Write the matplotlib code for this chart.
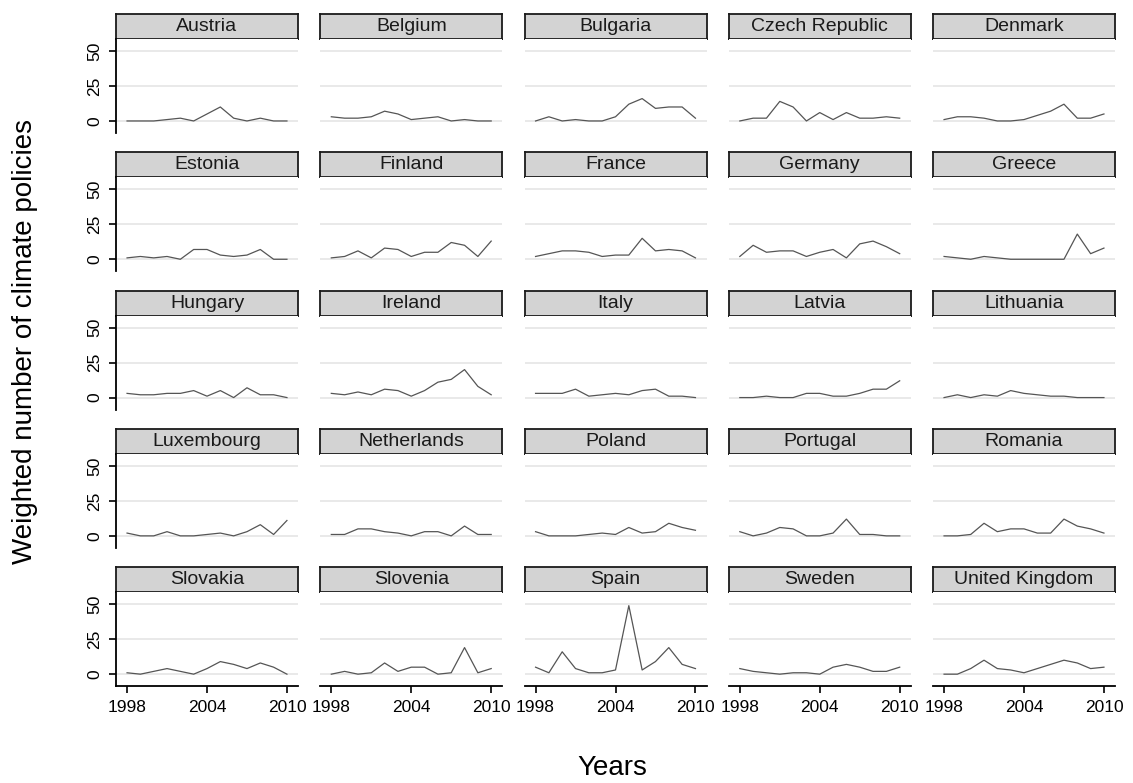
import matplotlib
matplotlib.use("Agg")
import matplotlib.pyplot as plt

plt.rcParams["font.family"] = ["Liberation Sans", "DejaVu Sans"]

# ── Data ─────────────────────────────────────────────────────────────────────
years = list(range(1998, 2011))

countries = [
    "Austria", "Belgium", "Bulgaria", "Czech Republic", "Denmark",
    "Estonia", "Finland", "France", "Germany", "Greece",
    "Hungary", "Ireland", "Italy", "Latvia", "Lithuania",
    "Luxembourg", "Netherlands", "Poland", "Portugal", "Romania",
    "Slovakia", "Slovenia", "Spain", "Sweden", "United Kingdom",
]

austria = [0, 0, 0, 1, 2, 0, 5, 10, 2, 0, 2, 0, 0]
belgium = [3, 2, 2, 3, 7, 5, 1, 2, 3, 0, 1, 0, 0]
bulgaria = [0, 3, 0, 1, 0, 0, 3, 12, 16, 9, 10, 10, 2]
czech = [0, 2, 2, 14, 10, 0, 6, 1, 6, 2, 2, 3, 2]
denmark = [1, 3, 3, 2, 0, 0, 1, 4, 7, 12, 2, 2, 5]
estonia = [1, 2, 1, 2, 0, 7, 7, 3, 2, 3, 7, 0, 0]
finland = [1, 2, 6, 1, 8, 7, 2, 5, 5, 12, 10, 2, 13]
france = [2, 4, 6, 6, 5, 2, 3, 3, 15, 6, 7, 6, 1]
germany = [2, 10, 5, 6, 6, 2, 5, 7, 1, 11, 13, 9, 4]
greece = [2, 1, 0, 2, 1, 0, 0, 0, 0, 0, 18, 4, 8]
hungary = [3, 2, 2, 3, 3, 5, 1, 5, 0, 7, 2, 2, 0]
ireland = [3, 2, 4, 2, 6, 5, 1, 5, 11, 13, 20, 8, 2]
italy = [3, 3, 3, 6, 1, 2, 3, 2, 5, 6, 1, 1, 0]
latvia = [0, 0, 1, 0, 0, 3, 3, 1, 1, 3, 6, 6, 12]
lithuania = [0, 2, 0, 2, 1, 5, 3, 2, 1, 1, 0, 0, 0]
luxembourg = [2, 0, 0, 3, 0, 0, 1, 2, 0, 3, 8, 1, 11]
netherlands = [1, 1, 5, 5, 3, 2, 0, 3, 3, 0, 7, 1, 1]
poland = [3, 0, 0, 0, 1, 2, 1, 6, 2, 3, 9, 6, 4]
portugal = [3, 0, 2, 6, 5, 0, 0, 2, 12, 1, 1, 0, 0]
romania = [0, 0, 1, 9, 3, 5, 5, 2, 2, 12, 7, 5, 2]
slovakia = [1, 0, 2, 4, 2, 0, 4, 9, 7, 4, 8, 5, 0]
slovenia = [0, 2, 0, 1, 8, 2, 5, 5, 0, 1, 19, 1, 4]
spain = [5, 1, 16, 4, 1, 1, 3, 49, 3, 9, 19, 7, 4]
sweden = [4, 2, 1, 0, 1, 1, 0, 5, 7, 5, 2, 2, 5]
united_kingdom = [0, 0, 4, 10, 4, 3, 1, 4, 7, 10, 8, 4, 5]

series = [
    austria, belgium, bulgaria, czech, denmark,
    estonia, finland, france, germany, greece,
    hungary, ireland, italy, latvia, lithuania,
    luxembourg, netherlands, poland, portugal, romania,
    slovakia, slovenia, spain, sweden, united_kingdom,
]

x_ticks = [1998, 2004, 2010]
y_ticks = [0, 25, 50]

# ── Layout (pixel units, top-left origin) ───────────────────────────────────
W, H = 1133, 783
NCOL, NROW = 5, 5
LEFT0, COL_PITCH, PANEL_W = 116, 204.25, 182
TOP0, ROW_PITCH = 14, 138.3
STRIP_H, PLOT_H = 25, 94


def fig_rect(x, y, w, h):
    return [x / W, 1 - (y + h) / H, w / W, h / H]


fig = plt.figure(figsize=(W / 100, H / 100), dpi=100)
fig.patch.set_facecolor("white")

for i, (name, vals) in enumerate(zip(countries, series)):
    r, c = divmod(i, NCOL)
    x0 = LEFT0 + c * COL_PITCH
    y0 = TOP0 + r * ROW_PITCH

    # strip
    sax = fig.add_axes(fig_rect(x0, y0, PANEL_W, STRIP_H))
    sax.set_facecolor("#d3d3d3")
    sax.set_xticks([])
    sax.set_yticks([])
    for sp in sax.spines.values():
        sp.set_linewidth(1.3)
        sp.set_color("#1a1a1a")
    sax.text(0.5, 0.5, name, ha="center", va="center",
             fontsize=14, color="#1a1a1a", transform=sax.transAxes)

    # plot
    ax = fig.add_axes(fig_rect(x0, y0 + STRIP_H, PANEL_W, PLOT_H))
    ax.set_xlim(1997.17, 2010.83)
    ax.set_ylim(-8.6, 58.6)
    for yv in y_ticks:
        ax.axhline(yv, color="#e3e3e3", lw=1.1, zorder=0)
    ax.plot(years, vals, color="#555555", lw=0.9, zorder=2)

    for sp in ax.spines.values():
        sp.set_visible(False)

    if c == 0:
        ax.spines["left"].set_visible(True)
        ax.spines["left"].set_linewidth(1.3)
        ax.set_yticks(y_ticks)
        ax.set_yticklabels([str(v) for v in y_ticks], rotation=90,
                           va="center", fontsize=12.5)
        ax.tick_params(axis="y", length=5, width=1.2, pad=5)
    else:
        ax.set_yticks([])

    if r == NROW - 1:
        ax.spines["bottom"].set_visible(True)
        ax.spines["bottom"].set_linewidth(1.3)
        ax.set_xticks(x_ticks)
        ax.set_xticklabels([str(v) for v in x_ticks], fontsize=12.5)
        ax.tick_params(axis="x", length=5, width=1.2, pad=5)
    else:
        ax.set_xticks([])

fig.text(25 / W, 1 - 341 / H, "Weighted number of climate policies",
         rotation=90, ha="center", va="center", fontsize=20)
fig.text(612 / W, 1 - 768 / H, "Years", ha="center", va="center", fontsize=20)

fig.savefig("out.png", dpi=100)
